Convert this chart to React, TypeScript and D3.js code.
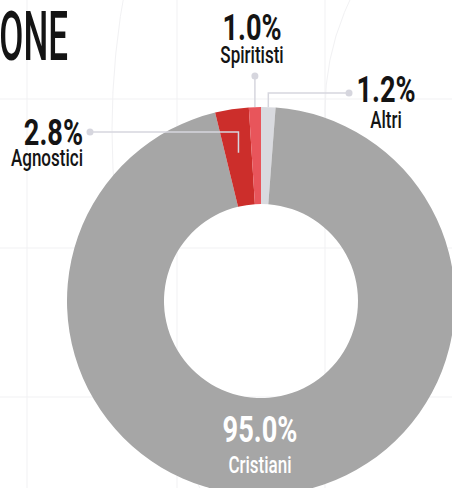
import * as d3 from "d3";

// religione — quota per gruppo (%)
const categories = ["Altri", "Cristiani", "Agnostici", "Spiritisti"];
const values = [1.2, 95.0, 2.8, 1.0];
const colors = ["#d9dadf", "#a6a6a6", "#cc2e2b", "#e8555b"];
const valueLabels = ["1.2%", "95.0%", "2.8%", "1.0%"];

const W = 452;
const H = 488;
const CX = 261;
const CY = 301;
const R_OUT = 194;
const R_IN = 97;

const FONT = "Roboto, 'DejaVu Sans', sans-serif";
const INK = "#141414";
const LEADER = "#d6d6de";

// grid in background, very faint
const gridX = [27, 177, 325];
const gridY = [99, 248, 397];

function polar(angle: number, r: number): [number, number] {
  return [CX + Math.sin(angle) * r, CY - Math.cos(angle) * r];
}

function Label({
  x,
  y,
  value,
  name,
  anchor,
  color = INK,
  gap = 26,
}: {
  x: number;
  y: number;
  value: string;
  name: string;
  anchor: "start" | "middle" | "end";
  color?: string;
  gap?: number;
}) {
  return (
    <g fill={color} fontFamily={FONT} textAnchor={anchor}>
      <text
        transform={`translate(${x},${y}) scale(0.8,1.06)`}
        fontSize={34}
        fontWeight={700}
      >
        {value}
      </text>
      <text
        transform={`translate(${x},${y + gap}) scale(0.74,1.06)`}
        fontSize={23}
        fontWeight={500}
      >
        {name}
      </text>
    </g>
  );
}

export default function App() {
  const arcs = d3
    .pie<number>()
    .sort(null)
    .value((d) => d)(values);

  const arc = d3
    .arc<d3.PieArcDatum<number>>()
    .innerRadius(R_IN)
    .outerRadius(R_OUT);

  const mid = (i: number) => (arcs[i].startAngle + arcs[i].endAngle) / 2;

  // leader lines
  const [ax, ay] = polar(mid(0), R_OUT); // Altri
  const [sx, sy] = polar(mid(3), R_OUT); // Spiritisti
  const [gx, gy] = polar(mid(2), 150); // Agnostici

  const altriDot: [number, number] = [349, 93];
  const spirDotY = 76;
  const agnDot: [number, number] = [90, 132];

  return (
    <svg
      width={W}
      height={H}
      viewBox={`0 0 ${W} ${H}`}
      style={{ position: "absolute", left: 0, top: 0, background: "#fff" }}
    >
      <g stroke="#f1f1f3" strokeWidth={1} fill="none">
        {gridX.map((x) => (
          <line key={"x" + x} x1={x} x2={x} y1={0} y2={H} />
        ))}
        {gridY.map((y) => (
          <line key={"y" + y} x1={0} x2={W} y1={y} y2={y} />
        ))}
        <circle cx={580} cy={110} r={255} />
        <circle cx={886} cy={130} r={774} />
      </g>

      <text
        transform="translate(68,60) scale(0.53,1.04)"
        textAnchor="end"
        fontFamily={FONT}
        fontSize={66}
        fontWeight={500}
        fill={INK}
      >
        ONE
      </text>

      <g transform={`translate(${CX},${CY})`}>
        {arcs.map((d, i) => (
          <path key={categories[i]} d={arc(d) ?? ""} fill={colors[i]} />
        ))}
      </g>

      <g stroke={LEADER} strokeWidth={1.5} fill="none">
        <path d={`M${ax},${ay}V${altriDot[1]}H${altriDot[0]}`} />
        <path d={`M${sx},${sy}V${spirDotY}`} />
        <path d={`M${gx},${gy}V${agnDot[1]}H${agnDot[0]}`} />
      </g>
      <g fill={LEADER}>
        <circle cx={altriDot[0]} cy={altriDot[1]} r={3.5} />
        <circle cx={sx} cy={spirDotY} r={3.5} />
        <circle cx={agnDot[0]} cy={agnDot[1]} r={3.5} />
      </g>

      <Label x={386} y={102} value={valueLabels[0]} name={categories[0]} anchor="middle" />
      <Label x={252} y={40} value={valueLabels[3]} name={categories[3]} anchor="middle" gap={23} />
      <Label x={83} y={145} value={valueLabels[2]} name={categories[2]} anchor="end" gap={21} />
      <Label
        x={260}
        y={442}
        value={valueLabels[1]}
        name={categories[1]}
        anchor="middle"
        color="#ffffff"
        gap={31}
      />
    </svg>
  );
}
